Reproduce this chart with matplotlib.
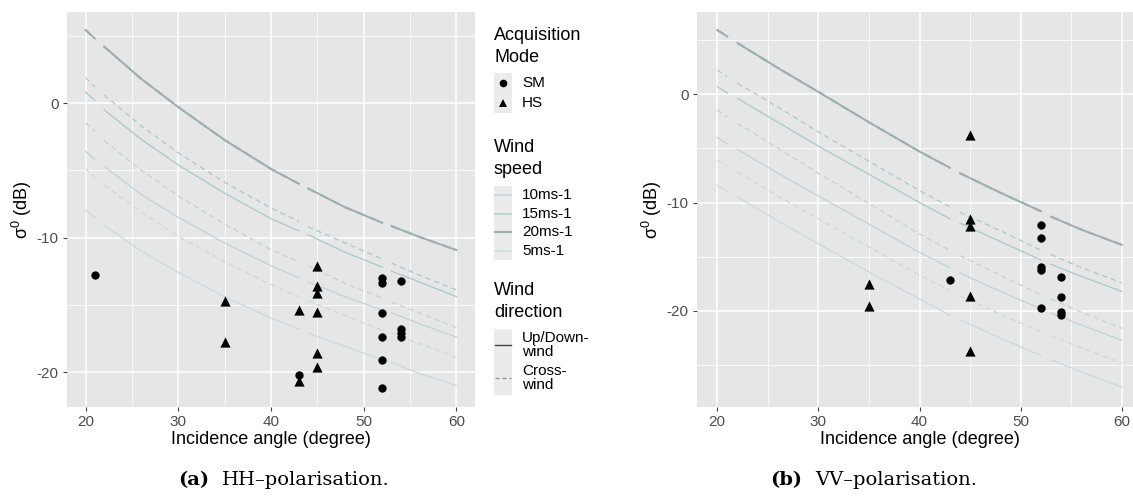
import numpy as np
import matplotlib
matplotlib.use('Agg')
import matplotlib.pyplot as plt
from matplotlib.lines import Line2D
from matplotlib.patches import Rectangle

plt.rcParams['font.family'] = ['Liberation Sans', 'DejaVu Sans']
plt.rcParams['mathtext.fontset'] = 'custom'
plt.rcParams['mathtext.rm'] = 'Liberation Sans'
plt.rcParams['mathtext.it'] = 'Liberation Sans:italic'

# ---------------- data ----------------
ANGLES = [20, 21, 22, 26, 30, 35, 40, 43, 44, 48, 52, 53, 56, 60]
BREAK_AFTER = [21, 43, 52]          # gaps in the model curves

# HH model curves (dB)
HH_20_UP    = [5.43, 4.8, 4.2, 1.8, -0.3, -2.75, -4.9, -6.0, -6.35, -7.75, -8.9, -9.15, -9.95, -10.93]
HH_20_CROSS = [5.43, 4.8, 4.2, 1.8, -0.3, -2.75, -4.9, -6.0, -6.35, -7.75, -8.9, -9.15, -9.95, -10.93]
HH_15_CROSS = [1.9, 1.2, 0.6, -1.7, -3.7, -5.9, -7.8, -8.8, -9.2, -10.4, -11.6, -11.9, -12.8, -13.9]
HH_15_UP    = [0.8, 0.2, -0.5, -2.7, -4.6, -6.7, -8.6, -9.5, -9.8, -11.1, -12.2, -12.5, -13.3, -14.4]
HH_10_CROSS = [-1.5, -2.1, -2.8, -5.0, -6.9, -9.0, -10.9, -11.8, -12.1, -13.4, -14.5, -14.8, -15.6, -16.7]
HH_10_UP    = [-3.6, -4.2, -4.7, -6.8, -8.5, -10.4, -12.1, -13.0, -13.3, -14.4, -15.4, -15.6, -16.4, -17.4]
HH_5_CROSS  = [-4.9, -5.5, -6.1, -8.1, -9.9, -11.8, -13.5, -14.4, -14.7, -15.8, -16.9, -17.1, -17.9, -18.9]
HH_5_UP     = [-8.0, -8.5, -9.1, -11.0, -12.6, -14.4, -16.0, -16.8, -17.1, -18.1, -19.1, -19.3, -20.1, -21.0]

# VV model curves (dB)
VV_20_UP    = [5.9, 5.3, 4.7, 2.4, 0.2, -2.6, -5.3, -6.8, -7.3, -9.1, -10.8, -11.3, -12.5, -13.9]
VV_20_CROSS = [5.9, 5.3, 4.7, 2.4, 0.2, -2.6, -5.3, -6.8, -7.3, -9.1, -10.8, -11.3, -12.5, -13.9]
VV_15_CROSS = [2.2, 1.6, 1.0, -1.2, -3.5, -6.2, -8.9, -10.4, -10.9, -12.6, -14.4, -14.8, -16.0, -17.4]
VV_15_UP    = [0.7, 0.1, -0.4, -2.6, -4.8, -7.4, -10.0, -11.5, -11.9, -13.6, -15.3, -15.7, -16.8, -18.2]
VV_10_CROSS = [-1.5, -2.1, -2.7, -5.0, -7.3, -10.1, -12.9, -14.4, -14.9, -16.7, -18.5, -18.9, -20.1, -21.6]
VV_10_UP    = [-4.0, -4.6, -5.1, -7.3, -9.4, -12.0, -14.6, -16.0, -16.5, -18.2, -19.8, -20.2, -21.3, -22.7]
VV_5_CROSS  = [-6.1, -6.7, -7.2, -9.4, -11.5, -14.1, -16.7, -18.1, -18.6, -20.3, -21.9, -22.3, -23.4, -24.8]
VV_5_UP     = [-8.4, -9.0, -9.5, -11.7, -13.8, -16.4, -18.9, -20.4, -20.8, -22.5, -24.1, -24.5, -25.6, -27.0]

# Observations
HH_SM_ANGLE = [21, 43, 52, 52, 52, 52, 52, 52, 54, 54, 54, 54]
HH_SM_SIGMA = [-12.8, -20.2, -13.0, -13.4, -15.6, -17.4, -19.1, -21.2, -13.2, -16.8, -17.1, -17.4]
HH_HS_ANGLE = [35, 35, 43, 43, 45, 45, 45, 45, 45, 45]
HH_HS_SIGMA = [-14.7, -17.8, -15.4, -20.7, -12.1, -13.6, -14.15, -15.5, -18.6, -19.6]

VV_SM_ANGLE = [43, 52, 52, 52, 52, 52, 54, 54, 54, 54]
VV_SM_SIGMA = [-17.1, -12.1, -13.3, -15.9, -16.2, -19.7, -16.9, -18.7, -20.1, -20.4]
VV_HS_ANGLE = [35, 35, 45, 45, 45, 45, 45]
VV_HS_SIGMA = [-17.5, -19.5, -3.8, -11.5, -12.2, -18.6, -23.7]

SPEED_LABELS = ['10ms-1', '15ms-1', '20ms-1', '5ms-1']
SPEED_COLORS = {'10ms-1': '#bcd6d7', '15ms-1': '#a8cbcd', '20ms-1': '#9aafb0', '5ms-1': '#c6dcdd'}
MODE_LABELS = ['SM', 'HS']
DIRECTION_LABELS = ['Up/Down-\nwind', 'Cross-\nwind']

# ---------------- helpers ----------------
def segmented(xs, ys):
    ox, oy = [], []
    for x, y in zip(xs, ys):
        ox.append(x); oy.append(y)
        if x in BREAK_AFTER:
            ox.append(np.nan); oy.append(np.nan)
    return np.array(ox, float), np.array(oy, float)

W, H = 1133, 498
fig = plt.figure(figsize=(W / 100, H / 100), dpi=100)

def px_axes(x0, y0, x1, y1):
    return fig.add_axes([x0 / W, 1 - y1 / H, (x1 - x0) / W, (y1 - y0) / H])

def style_axes(ax, ylim, ymajor, yminor):
    ax.set_facecolor('#e6e6e6')
    ax.set_xlim(18, 62)
    ax.set_ylim(*ylim)
    ax.set_xticks([20, 30, 40, 50, 60])
    ax.set_xticks([25, 35, 45, 55], minor=True)
    ax.set_yticks(ymajor)
    ax.set_yticks(yminor, minor=True)
    ax.set_yticklabels([str(v) for v in ymajor])
    ax.grid(which='major', color='white', lw=1.1)
    ax.grid(which='minor', color='white', lw=0.55)
    ax.set_axisbelow(True)
    for s in ax.spines.values():
        s.set_visible(False)
    ax.tick_params(which='major', length=3, width=0.8, color='#444444',
                   labelcolor='#4d4d4d', labelsize=11, pad=3)
    ax.tick_params(which='minor', length=0)
    ax.set_xlabel('Incidence angle (degree)', fontsize=13, labelpad=1)
    ax.set_ylabel('σ$^{0}$ (dB)', fontsize=13, labelpad=2)

def draw_panel(ax, curves, sm, hs):
    for vals, speed, dashed in curves:
        x, y = segmented(ANGLES, vals)
        lw = 1.4 if speed == '20ms-1' else 0.95
        ax.plot(x, y, color=SPEED_COLORS[speed], lw=lw,
                ls=(0, (4, 3)) if dashed else '-')
    ax.scatter(sm[0], sm[1], marker='o', s=36, color='black', zorder=5, linewidths=0)
    ax.scatter(hs[0], hs[1], marker='^', s=54, color='black', zorder=5, linewidths=0)

ax1 = px_axes(67, 12, 475, 407)
style_axes(ax1, (-22.6, 6.77), [-20, -10, 0], [-15, -5, 5])
draw_panel(ax1, [
    (HH_20_UP, '20ms-1', False), (HH_20_CROSS, '20ms-1', True),
    (HH_15_CROSS, '15ms-1', True), (HH_15_UP, '15ms-1', False),
    (HH_10_CROSS, '10ms-1', True), (HH_10_UP, '10ms-1', False),
    (HH_5_CROSS, '5ms-1', True), (HH_5_UP, '5ms-1', False)],
    (HH_SM_ANGLE, HH_SM_SIGMA), (HH_HS_ANGLE, HH_HS_SIGMA))

ax2 = px_axes(697, 12, 1142, 407)
style_axes(ax2, (-28.85, 7.56), [-20, -10, 0], [-25, -15, -5, 5])
draw_panel(ax2, [
    (VV_20_UP, '20ms-1', False), (VV_20_CROSS, '20ms-1', True),
    (VV_15_CROSS, '15ms-1', True), (VV_15_UP, '15ms-1', False),
    (VV_10_CROSS, '10ms-1', True), (VV_10_UP, '10ms-1', False),
    (VV_5_CROSS, '5ms-1', True), (VV_5_UP, '5ms-1', False)],
    (VV_SM_ANGLE, VV_SM_SIGMA), (VV_HS_ANGLE, VV_HS_SIGMA))

# ---------------- legend (pixel coordinates overlay) ----------------
lax = fig.add_axes([0, 0, 1, 1], zorder=10)
lax.set_xlim(0, W); lax.set_ylim(H, 0); lax.axis('off')
lx, tx = 494, 522
key_bg = '#ebebeb'

lax.text(lx, 35, 'Acquisition', fontsize=13, va='center', ha='left')
lax.text(lx, 57, 'Mode', fontsize=13, va='center', ha='left')
for i, (lab, mk) in enumerate(zip(MODE_LABELS, ['o', '^'])):
    cy = 83 + 20 * i
    lax.add_patch(Rectangle((lx, cy - 10), 18, 20, color=key_bg, lw=0))
    lax.add_line(Line2D([lx + 9], [cy], marker=mk, ms=5.5 if mk == 'o' else 6,
                        color='black', ls='none', mew=0))
    lax.text(tx, cy, lab, fontsize=11, va='center', ha='left')

lax.text(lx, 147, 'Wind', fontsize=13, va='center', ha='left')
lax.text(lx, 169, 'speed', fontsize=13, va='center', ha='left')
for i, lab in enumerate(SPEED_LABELS):
    cy = 195 + 18.5 * i
    lax.add_patch(Rectangle((lx, cy - 9.25), 18, 18.5, color=key_bg, lw=0))
    lax.add_line(Line2D([lx + 1, lx + 17], [cy, cy], color=SPEED_COLORS[lab],
                        lw=1.5 if lab == '20ms-1' else 1.1))
    lax.text(tx, cy, lab, fontsize=11, va='center', ha='left')

lax.text(lx, 290, 'Wind', fontsize=13, va='center', ha='left')
lax.text(lx, 312, 'direction', fontsize=13, va='center', ha='left')
for i, (lab, ls) in enumerate(zip(DIRECTION_LABELS, ['-', (0, (3, 2))])):
    cy = 345 + 33 * i
    lax.add_patch(Rectangle((lx, cy - 16.5), 18, 33, color=key_bg, lw=0))
    lax.add_line(Line2D([lx + 1, lx + 17], [cy, cy], color='#444444' if i == 0 else '#999999',
                        lw=1.0, ls=ls))
    lax.text(tx, cy, lab, fontsize=11, va='center', ha='left', linespacing=0.95)

# ---------------- captions ----------------
cap_kw = dict(fontsize=14, va='center', ha='left', family=['DejaVu Serif'])
lax.text(178, 480, '(a)', fontweight='bold', **cap_kw)
lax.text(222, 480, 'HH–polarisation.', **cap_kw)
lax.text(770, 480, '(b)', fontweight='bold', **cap_kw)
lax.text(815, 480, 'VV–polarisation.', **cap_kw)

fig.savefig('out.png', dpi=100)
